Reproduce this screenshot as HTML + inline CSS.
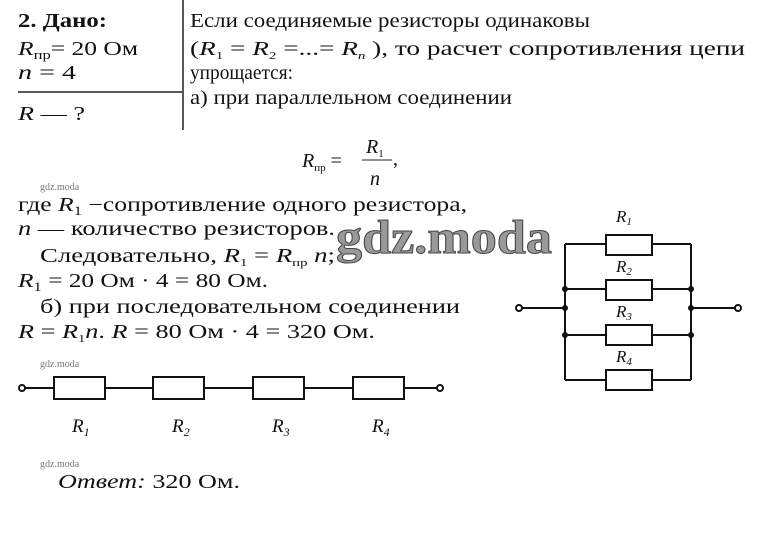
<!DOCTYPE html>
<html><head><meta charset="utf-8"><style>
html,body{margin:0;padding:0;background:#fff}
svg{display:block}
text{font-family:"Liberation Serif",serif;fill:#111}
.i{font-style:italic}
.wm{font-family:"Liberation Serif",serif;font-size:10px;fill:#777}
</style></head><body>
<svg width="760" height="534" viewBox="0 0 760 534" xmlns="http://www.w3.org/2000/svg">
<g font-size="20">
<text x="18" y="27" font-weight="bold" textLength="89" lengthAdjust="spacingAndGlyphs">2. Дано:</text>
<text x="18" y="55" textLength="120" lengthAdjust="spacingAndGlyphs"><tspan class="i">R</tspan><tspan font-size="13" dy="4">пр</tspan><tspan dy="-4">= 20 Ом</tspan></text>
<text x="18" y="79" textLength="58" lengthAdjust="spacingAndGlyphs"><tspan class="i">n</tspan> = 4</text>
<line x1="18" y1="92" x2="182" y2="92" stroke="#222" stroke-width="1.5"/>
<text x="18" y="120" textLength="67" lengthAdjust="spacingAndGlyphs"><tspan class="i">R</tspan> — ?</text>
<line x1="183" y1="0" x2="183" y2="130" stroke="#222" stroke-width="1.5"/>
<text x="190" y="27" textLength="400" lengthAdjust="spacingAndGlyphs">Если соединяемые резисторы одинаковы</text>
<text x="190" y="55" textLength="555" lengthAdjust="spacingAndGlyphs">(<tspan class="i">R</tspan><tspan font-size="11" dy="4">1</tspan><tspan dy="-4"> = </tspan><tspan class="i">R</tspan><tspan font-size="11" dy="4">2</tspan><tspan dy="-4"> =...= </tspan><tspan class="i">R</tspan><tspan font-size="11" dy="4" class="i">n</tspan><tspan dy="-4"> ),  то  расчет  сопротивления  цепи</tspan></text>
<text x="190" y="79" textLength="103" lengthAdjust="spacingAndGlyphs">упрощается:</text>
<text x="190" y="104" textLength="322" lengthAdjust="spacingAndGlyphs">а) при параллельном соединении</text>
<text x="302" y="167"><tspan class="i">R</tspan><tspan font-size="11" dy="4">пр</tspan><tspan dy="-4"> =</tspan></text>
<line x1="362" y1="160" x2="392" y2="160" stroke="#222" stroke-width="1"/>
<text x="366" y="153"><tspan class="i">R</tspan><tspan font-size="11" dy="4">1</tspan></text>
<text x="370" y="185" class="i">n</text>
<text x="393" y="165">,</text>
<text x="18" y="211" textLength="449" lengthAdjust="spacingAndGlyphs">где <tspan class="i">R</tspan><tspan font-size="13" dy="4">1</tspan><tspan dy="-4"> −сопротивление одного резистора,</tspan></text>
<text x="18" y="235" textLength="317" lengthAdjust="spacingAndGlyphs"><tspan class="i">n</tspan> — количество резисторов.</text>
<text x="40" y="262" textLength="295" lengthAdjust="spacingAndGlyphs">Следовательно, <tspan class="i">R</tspan><tspan font-size="11" dy="4">1</tspan><tspan dy="-4"> = </tspan><tspan class="i">R</tspan><tspan font-size="11" dy="4">пр</tspan><tspan dy="-4" class="i"> n</tspan><tspan>;</tspan></text>
<text x="18" y="287" textLength="250" lengthAdjust="spacingAndGlyphs"><tspan class="i">R</tspan><tspan font-size="13" dy="4">1</tspan><tspan dy="-4"> = 20 Ом · 4 =  80 Ом.</tspan></text>
<text x="40" y="313" textLength="420" lengthAdjust="spacingAndGlyphs">б) при последовательном соединении</text>
<text x="18" y="338" textLength="357" lengthAdjust="spacingAndGlyphs"><tspan class="i">R</tspan> = <tspan class="i">R</tspan><tspan font-size="11" dy="4">1</tspan><tspan dy="-4" class="i">n</tspan><tspan>. </tspan><tspan class="i">R</tspan> = 80 Ом · 4 = 320 Ом.</text>
<text x="58" y="488" textLength="182" lengthAdjust="spacingAndGlyphs"><tspan class="i">Ответ:</tspan> 320 Ом.</text>
</g>
<text class="wm" x="40" y="190">gdz.moda</text>
<text class="wm" x="40" y="367">gdz.moda</text>
<text class="wm" x="40" y="467">gdz.moda</text>
<text x="336" y="253" font-size="48" font-weight="bold" textLength="216" lengthAdjust="spacingAndGlyphs" style="fill:#999;stroke:#444;stroke-width:1">gdz.moda</text>

<g stroke="#111" stroke-width="2" fill="none">
<line x1="25" y1="388" x2="54" y2="388"/>
<line x1="105" y1="388" x2="153" y2="388"/>
<line x1="204" y1="388" x2="253" y2="388"/>
<line x1="304" y1="388" x2="353" y2="388"/>
<line x1="404" y1="388" x2="437" y2="388"/>
<rect x="54" y="377" width="51" height="22"/>
<rect x="153" y="377" width="51" height="22"/>
<rect x="253" y="377" width="51" height="22"/>
<rect x="353" y="377" width="51" height="22"/>
<circle cx="22" cy="388" r="3" fill="#fff"/>
<circle cx="440" cy="388" r="3" fill="#fff"/>
</g>
<g font-size="19">
<text x="72" y="432" class="i">R<tspan font-size="12" dy="4">1</tspan></text>
<text x="172" y="432" class="i">R<tspan font-size="12" dy="4">2</tspan></text>
<text x="272" y="432" class="i">R<tspan font-size="12" dy="4">3</tspan></text>
<text x="372" y="432" class="i">R<tspan font-size="12" dy="4">4</tspan></text>
</g>

<g stroke="#111" stroke-width="2" fill="none">
<line x1="522" y1="308" x2="565" y2="308"/>
<line x1="691" y1="308" x2="735" y2="308"/>
<line x1="565" y1="244" x2="565" y2="380"/>
<line x1="691" y1="244" x2="691" y2="380"/>
<line x1="565" y1="244" x2="606" y2="244"/><line x1="652" y1="244" x2="691" y2="244"/>
<line x1="565" y1="289" x2="606" y2="289"/><line x1="652" y1="289" x2="691" y2="289"/>
<line x1="565" y1="335" x2="606" y2="335"/><line x1="652" y1="335" x2="691" y2="335"/>
<line x1="565" y1="380" x2="606" y2="380"/><line x1="652" y1="380" x2="691" y2="380"/>
<rect x="606" y="235" width="46" height="20" fill="#fff"/>
<rect x="606" y="280" width="46" height="20" fill="#fff"/>
<rect x="606" y="325" width="46" height="20" fill="#fff"/>
<rect x="606" y="370" width="46" height="20" fill="#fff"/>
<circle cx="519" cy="308" r="3" fill="#fff"/>
<circle cx="738" cy="308" r="3" fill="#fff"/>
</g>
<g fill="#111">
<circle cx="565" cy="289" r="3"/><circle cx="565" cy="308" r="3"/><circle cx="565" cy="335" r="3"/>
<circle cx="691" cy="289" r="3"/><circle cx="691" cy="308" r="3"/><circle cx="691" cy="335" r="3"/>
</g>
<g font-size="17">
<text x="616" y="222" class="i">R<tspan font-size="11" dy="3">1</tspan></text>
<text x="616" y="272" class="i">R<tspan font-size="11" dy="3">2</tspan></text>
<text x="616" y="317" class="i">R<tspan font-size="11" dy="3">3</tspan></text>
<text x="616" y="362" class="i">R<tspan font-size="11" dy="3">4</tspan></text>
</g>
</svg>
</body></html>
